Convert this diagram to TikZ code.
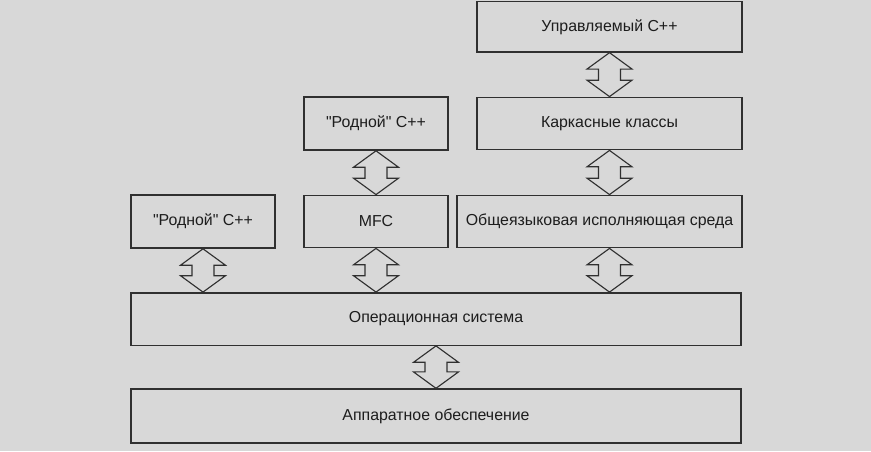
\documentclass[tikz,border=0pt]{standalone}
\usepackage{fontspec}
\setmainfont{Liberation Sans}
\usetikzlibrary{calc}
\definecolor{paper}{RGB}{216,216,216}
\definecolor{ink}{RGB}{48,48,48}
\tikzset{
  layer/.style={draw=ink, line width=1pt, fill=paper, minimum height=1.31cm,
    inner sep=0pt, text=ink!60!black, font=\fontsize{11.3}{13}\selectfont},
  native/.style={layer, line width=1.6pt},
  updownline/.style={draw=ink, line width=0.8pt, fill=paper, line join=miter}
}
% double arrow between two tips (upper tip, lower tip)
\newcommand{\updown}[2]{%
  \draw[updownline] (#1) -- ++(-0.5625,-0.41) -- ++(0.2875,0)
    -- ($(#2)+(-0.275,0.41)$) -- ++(-0.2875,0) -- (#2)
    -- ++(0.5625,0.41) -- ++(-0.2875,0)
    -- ($(#1)+(0.275,-0.41)$) -- ++(0.2875,0) -- cycle;}
\newcommand{\qq}{\textquotedbl}

\begin{document}
\begin{tikzpicture}
\useasboundingbox[fill=paper] (0,0) rectangle (21.775,11.275);
% rows of boxes
\node[layer, minimum width=6.625cm, minimum height=1.26cm] (managed) at (15.2375,10.606) {Управляемый C++};
\node[layer, minimum width=6.625cm] (frame) at (15.2375,8.1875) {Каркасные классы};
\node[native, minimum width=3.6cm] (native2) at (9.4,8.1875) {\qq Родной\qq\ C++};
\node[native, minimum width=3.6cm] (native1) at (5.075,5.7375) {\qq Родной\qq\ C++};
\node[layer, minimum width=3.6cm] (mfc) at (9.4,5.7375) {MFC};
\node[layer, minimum width=7.125cm] (clr) at (14.9875,5.7375) {Общеязыковая исполняющая среда};
\node[layer, minimum width=15.25cm] (os) at (10.9,3.3) {Операционная система};
\node[layer, minimum width=15.25cm, minimum height=1.35cm] (hw) at (10.9,0.875) {Аппаратное обеспечение};
% arrow tips
\coordinate (clrtop) at (managed.south |- clr.north);
\coordinate (clrbot) at (managed.south |- clr.south);
\coordinate (os1) at (native1.south |- os.north);
\coordinate (os2) at (mfc.south |- os.north);
\coordinate (os3) at (managed.south |- os.north);
% arrows
\updown{managed.south}{frame.north}
\updown{frame.south}{clrtop}
\updown{native2.south}{mfc.north}
\updown{native1.south}{os1}
\updown{mfc.south}{os2}
\updown{clrbot}{os3}
\updown{os.south}{hw.north}
\end{tikzpicture}
\end{document}
